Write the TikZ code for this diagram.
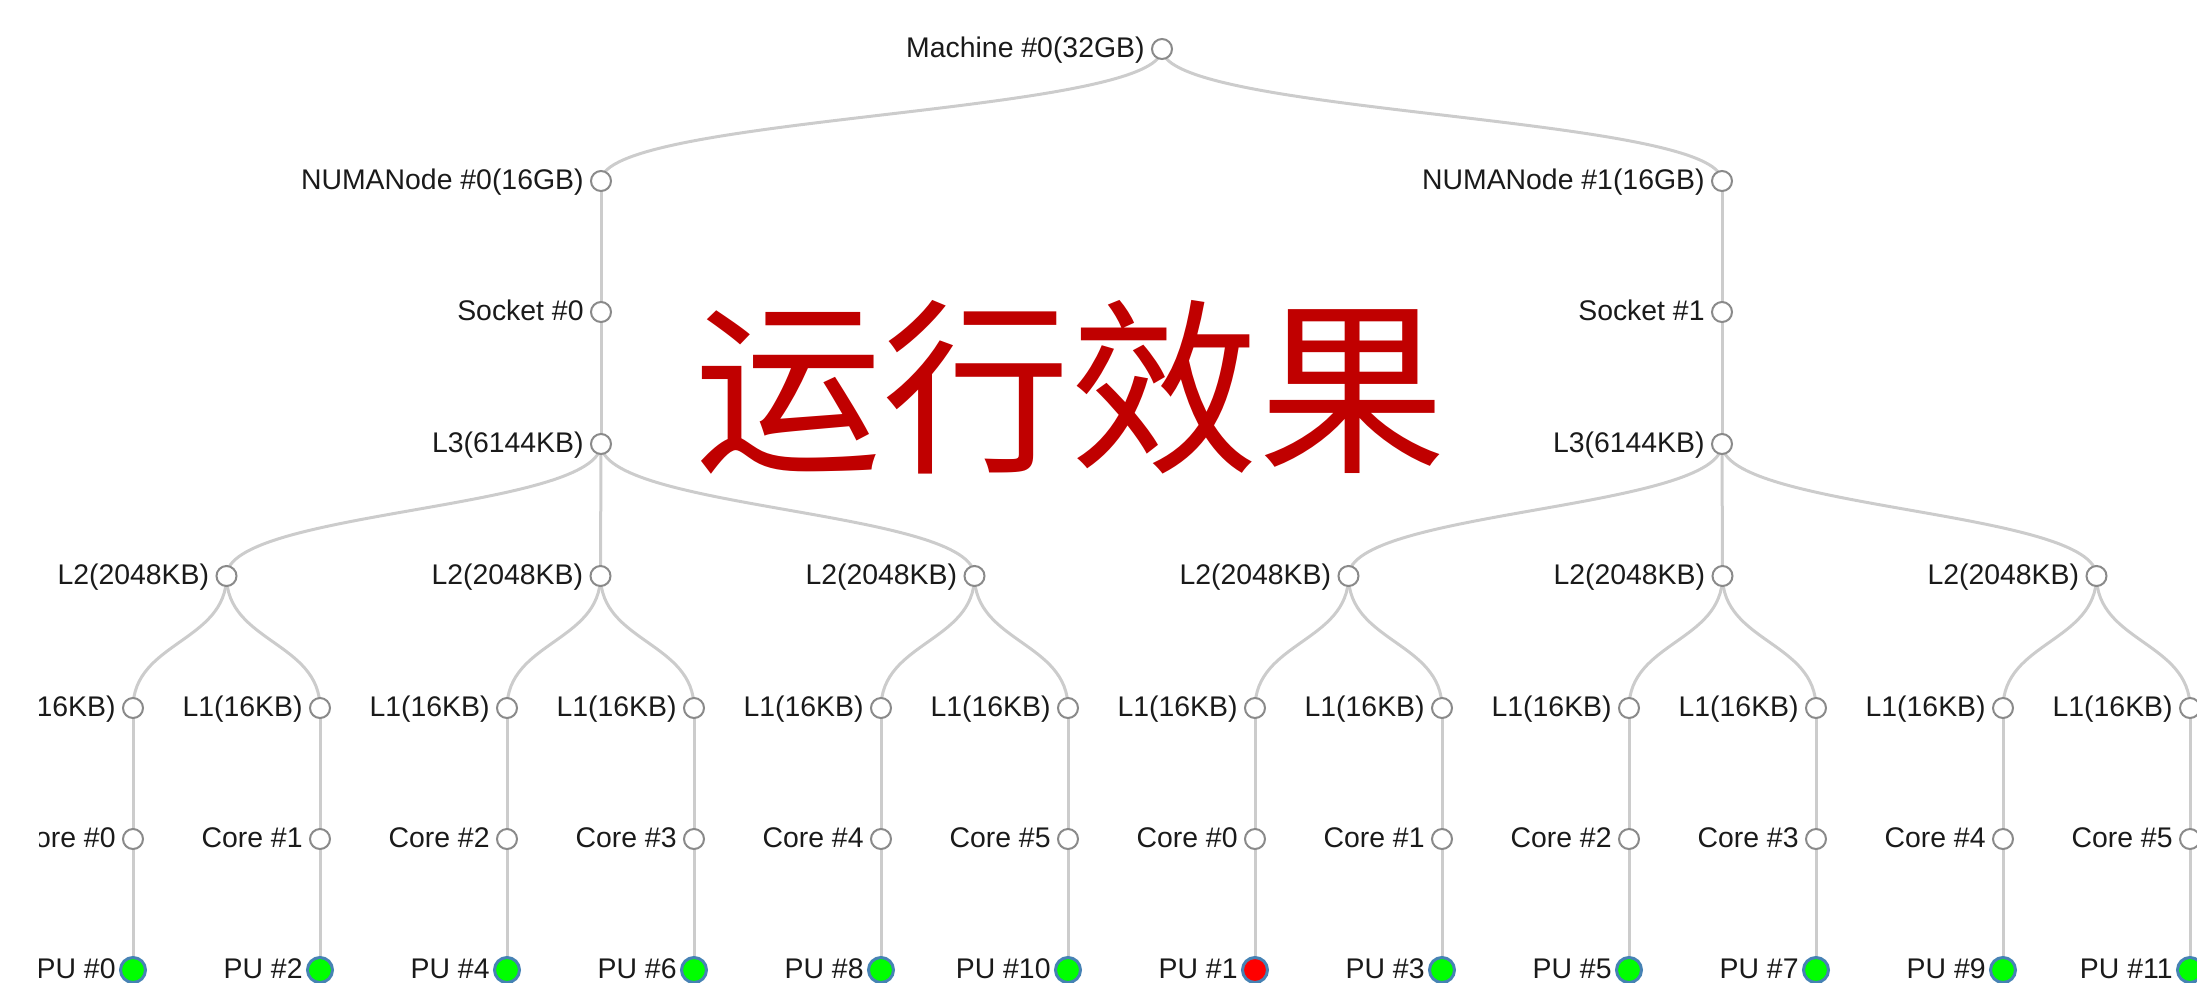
\documentclass[tikz,border=0pt]{standalone}
\usepackage{fontspec}
\setmainfont{Liberation Sans}
\newfontfamily\cjk{Noto Sans CJK SC}
\usetikzlibrary{calc}
\pgfdeclarelayer{bg}
\pgfdeclarelayer{fg}
\pgfsetlayers{bg,main,fg}
\definecolor{linkgray}{HTML}{CCCCCC}
\definecolor{ringgray}{HTML}{8A8A8A}
\definecolor{steel}{HTML}{4682B4}
\definecolor{pugreen}{HTML}{00FF00}
\definecolor{pured}{HTML}{FF0000}
\definecolor{titlered}{HTML}{C00000}
\definecolor{labtext}{HTML}{1A1A1A}
\newcommand{\treelink}[2]{\begin{pgfonlayer}{bg}\draw[link] let \p1=(#1.center), \p2=(#2.center) in (\p1) .. controls (\x1,{0.5*(\y1+\y2)}) and (\x2,{0.5*(\y1+\y2)}) .. (\p2);\end{pgfonlayer}}
\newcommand{\tnode}[5]{\node[#4] (#1) at (#2,#3) {}; \node[lab] (#1-t) at ($(#1)+(-17,8)$) {#5};}
\begin{document}
\begin{tikzpicture}[x=0.5pt,y=-0.5pt,
  hol/.style={circle,draw=ringgray,line width=1pt,fill=white,inner sep=0pt,minimum size=10pt},
  pu/.style={circle,draw=steel,line width=1.5pt,inner sep=0pt,minimum size=12.5pt},
  lab/.style={anchor=base east,font=\fontsize{14.2}{16}\selectfont,text=labtext,inner sep=0pt},
  link/.style={draw=linkgray,line width=1.5pt}]
\useasboundingbox (0,0) rectangle (2197,982);
\clip (0,0) rectangle (2197,982);
% top levels
\tnode{mach}{1162}{49}{hol}{Machine \#0(32GB)}
\tnode{numa0}{601}{181}{hol}{NUMANode \#0(16GB)}
\tnode{numa1}{1722}{181}{hol}{NUMANode \#1(16GB)}
\tnode{sock0}{601}{312}{hol}{Socket \#0}
\tnode{sock1}{1722}{312}{hol}{Socket \#1}
\tnode{lthree0}{601}{444}{hol}{L3(6144KB)}
\tnode{lthree1}{1722}{444}{hol}{L3(6144KB)}
\treelink{mach}{numa0}
\treelink{mach}{numa1}
\treelink{numa0}{sock0}
\treelink{numa1}{sock1}
\treelink{sock0}{lthree0}
\treelink{sock1}{lthree1}
% L2
\foreach \j in {0,...,5}{
  \pgfmathsetmacro{\xx}{226.5+374*\j}
  \pgfmathtruncatemacro{\s}{\j<3 ? 0 : 1}
  \tnode{ltwo\j}{\xx}{576}{hol}{L2(2048KB)}
  \treelink{lthree\s}{ltwo\j}
}
% L1, cores, PUs
\foreach \i in {0,...,11}{
  \pgfmathsetmacro{\xx}{133+187*\i}
  \pgfmathtruncatemacro{\cn}{mod(\i,6)}
  \pgfmathtruncatemacro{\pn}{\i<6 ? 2*\i : 2*(\i-6)+1}
  \pgfmathtruncatemacro{\j}{floor(\i/2)}
  \def\pf{pugreen}\ifnum\i=6 \def\pf{pured}\fi
  \tnode{lone\i}{\xx}{708}{hol}{L1(16KB)}
  \tnode{core\i}{\xx}{839}{hol}{Core \#\cn}
  \tnode{pu\i}{\xx}{970}{pu,fill=\pf}{PU \#\pn}
  \treelink{ltwo\j}{lone\i}
  \treelink{lone\i}{core\i}
  \treelink{core\i}{pu\i}
}
\node[text=titlered,font=\cjk\fontsize{94}{100}\selectfont,inner sep=0pt] (title) at (1070,387) {运行效果};
% screenshot crop margin on the left
\begin{pgfonlayer}{fg}
\fill[white] (0,0) rectangle (39,982);
\end{pgfonlayer}
\end{tikzpicture}
\end{document}
